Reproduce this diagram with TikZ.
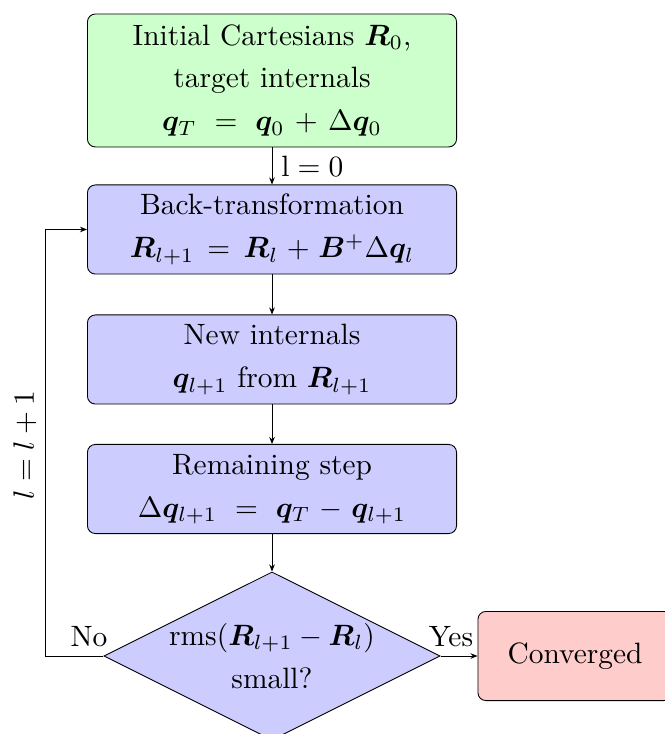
\documentclass[tikz,border=0pt]{standalone}
\usepackage{bm}
\usetikzlibrary{shapes.geometric,arrows.meta}
\newcommand{\wideeq}{\mskip11mu{=}\mskip11mu}
\begin{document}
\begin{tikzpicture}[x=0.34pt,y=-0.34pt, line width=0.3pt,
  every node/.style={font=\fontsize{10}{14.6}\selectfont},
  stepbox/.style={draw, rounded corners=2.7pt, align=center,
    text width=121.5pt, inner sep=2pt, minimum height=30.3pt, fill=blue!20},
  startbox/.style={stepbox, fill=green!20, minimum height=45.2pt},
  endbox/.style={stepbox, fill=red!20, text width=62pt},
  decision/.style={draw, diamond, fill=blue!20, align=center, inner sep=0pt,
    shape aspect=2, minimum width=114.2pt, minimum height=56.4pt},
  arrow/.style={-{Stealth[length=2.4pt,width=1.9pt]}}]
\useasboundingbox (0,0) rectangle (664,734);

% process steps
\node[startbox] (init) at (272,80.5)
  {Initial Cartesians $\bm{R}_0$,\\ target internals\\
   $\bm{q}_T\wideeq\bm{q}_0+\Delta\bm{q}_0$};
\node[stepbox] (back) at (272,229.5)
  {Back-transformation\\ $\bm{R}_{l+1}=\bm{R}_l+\bm{B}^{+}\Delta\bm{q}_l$};
\node[stepbox] (new) at (272,359.5)
  {New internals\\ $\bm{q}_{l+1}$ from $\bm{R}_{l+1}$};
\node[stepbox] (rem) at (272,489)
  {Remaining step\\ $\Delta\bm{q}_{l+1}\wideeq\bm{q}_T-\bm{q}_{l+1}$};
\node[decision] (test) at (272,656)
  {rms$(\bm{R}_{l+1}-\bm{R}_l)$\\ small?};
\node[endbox] (done) at (575,656) {Converged};

% connectors
\draw[arrow] (init) -- node[right, inner sep=3pt] {$\mathrm{l}=0$} (back);
\draw[arrow] (back) -- (new);
\draw[arrow] (new) -- (rem);
\draw[arrow] (rem) -- (test);
\draw[arrow] (test.east) -- (done.west);
\coordinate (loop) at (45,656);
\draw[arrow] (test.west) -- (loop) |- (back.west);

% labels
\node (no) at (89,637) {No};
\node (yes) at (451,637) {Yes};
\node[rotate=90] (inc) at (25,445) {$l=l+1$};
\end{tikzpicture}
\end{document}
